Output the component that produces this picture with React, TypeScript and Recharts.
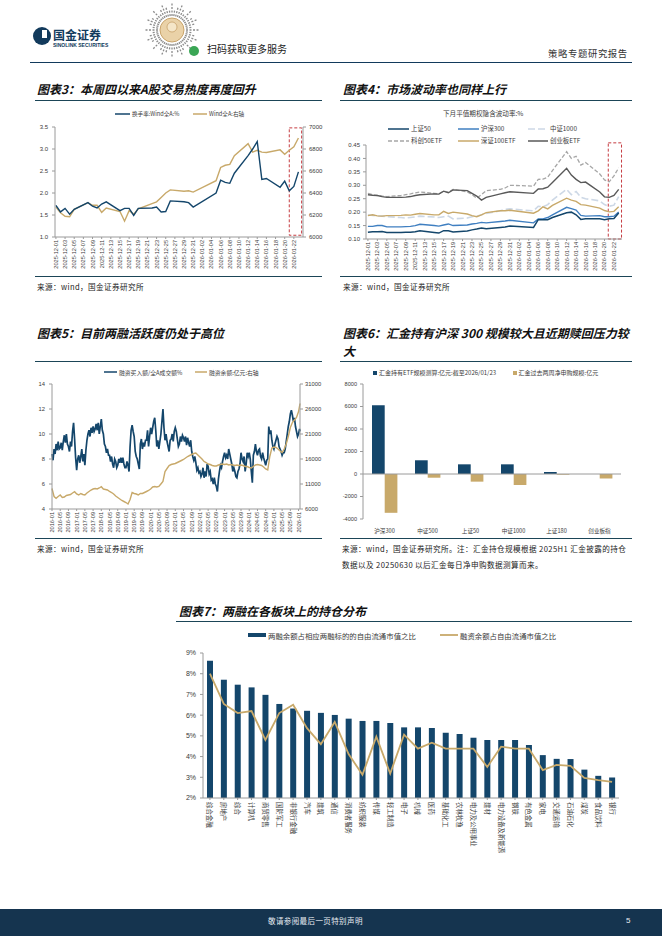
import React from 'react';
import {
  ComposedChart,
  LineChart,
  BarChart,
  Line,
  Bar,
  XAxis,
  YAxis,
  ReferenceArea,
  ReferenceLine,
} from 'recharts';

// Strategy report page 5: five panels (charts 3-7) laid out like the PDF page.

const CJK = '"Noto Sans CJK SC", "Noto Sans", sans-serif';
const NUM = '"Liberation Sans", "DejaVu Sans", sans-serif';
const NAVY = '#14466b';
const GOLD = '#c8a96a';
const RULE = '#1b4557';
const AXIS = '#9a9a9a';
const INK = '#3a3a3a';
const BOX = '#c0262b';

// ---- charts 3 & 4: daily, 2025-12-01 .. 2026-01-23 (calendar-day offsets) ----
const tradeDays = [0, 1, 2, 3, 4, 7, 8, 9, 10, 11, 14, 15, 16, 17, 18, 21, 22, 23, 24, 25, 28, 29, 30,
  35, 36, 37, 38, 39, 42, 43, 44, 45, 46, 49, 50, 51, 52, 53];
const dayTickLabels = ['2025-12-01', '2025-12-03', '2025-12-05', '2025-12-07', '2025-12-09', '2025-12-11',
  '2025-12-13', '2025-12-15', '2025-12-17', '2025-12-19', '2025-12-21', '2025-12-23', '2025-12-25',
  '2025-12-27', '2025-12-29', '2025-12-31', '2026-01-02', '2026-01-04', '2026-01-06', '2026-01-08',
  '2026-01-10', '2026-01-12', '2026-01-14', '2026-01-16', '2026-01-18', '2026-01-20', '2026-01-22'];

const turnoverRate = [1.72, 1.57, 1.65, 1.52, 1.63, 1.78, 1.70, 1.66, 1.75, 1.80, 1.60, 1.65, 1.65, 1.49, 1.65,
  1.66, 1.68, 1.57, 1.58, 1.82, 1.80, 1.78, 1.68, 2.00, 2.29, 2.24, 2.22, 2.45, 2.85, 3.00, 3.17, 2.31, 2.33,
  2.13, 2.27, 2.05, 2.15, 2.48];
const windAllA = [6272, 6220, 6188, 6184, 6252, 6312, 6288, 6288, 6224, 6264, 6232, 6144, 6240, 6208, 6256,
  6304, 6320, 6360, 6400, 6428, 6416, 6420, 6408, 6512, 6632, 6652, 6660, 6740, 6848, 6772, 6788, 6772, 6768,
  6792, 6752, 6788, 6820, 6900];

const ivSz50 = [0.125, 0.127, 0.127, 0.128, 0.124, 0.124, 0.125, 0.125, 0.127, 0.131, 0.124, 0.122, 0.131,
  0.131, 0.126, 0.130, 0.134, 0.137, 0.141, 0.138, 0.143, 0.145, 0.148, 0.143, 0.172, 0.172, 0.172, 0.180,
  0.198, 0.200, 0.190, 0.173, 0.175, 0.175, 0.172, 0.175, 0.176, 0.197];
const ivHs300 = [0.147, 0.147, 0.150, 0.150, 0.145, 0.145, 0.146, 0.147, 0.150, 0.155, 0.150, 0.148, 0.152,
  0.156, 0.150, 0.152, 0.156, 0.158, 0.162, 0.160, 0.165, 0.167, 0.170, 0.160, 0.175, 0.175, 0.180, 0.190,
  0.218, 0.213, 0.208, 0.188, 0.185, 0.187, 0.183, 0.183, 0.185, 0.200];
const ivZz1000 = [0.190, 0.188, 0.186, 0.185, 0.183, 0.180, 0.178, 0.180, 0.182, 0.185, 0.182, 0.180, 0.183,
  0.185, 0.175, 0.178, 0.183, 0.185, 0.190, 0.195, 0.205, 0.210, 0.212, 0.205, 0.222, 0.220, 0.228, 0.245,
  0.285, 0.265, 0.277, 0.255, 0.250, 0.242, 0.228, 0.222, 0.226, 0.258];
const ivKc50 = [0.270, 0.265, 0.262, 0.260, 0.258, 0.262, 0.265, 0.268, 0.272, 0.275, 0.270, 0.268, 0.278,
  0.275, 0.285, 0.275, 0.265, 0.252, 0.265, 0.280, 0.285, 0.290, 0.300, 0.297, 0.322, 0.323, 0.330, 0.355,
  0.425, 0.400, 0.408, 0.375, 0.385, 0.342, 0.320, 0.313, 0.335, 0.365];
const ivSz100 = [0.187, 0.190, 0.186, 0.185, 0.187, 0.188, 0.190, 0.189, 0.192, 0.195, 0.190, 0.190, 0.203,
  0.195, 0.200, 0.193, 0.187, 0.183, 0.190, 0.198, 0.205, 0.205, 0.207, 0.196, 0.205, 0.220, 0.212, 0.225,
  0.252, 0.245, 0.240, 0.228, 0.226, 0.215, 0.206, 0.201, 0.203, 0.220];
const ivCyb = [0.265, 0.263, 0.262, 0.258, 0.255, 0.255, 0.256, 0.258, 0.262, 0.265, 0.268, 0.267, 0.278,
  0.272, 0.283, 0.280, 0.270, 0.260, 0.245, 0.255, 0.268, 0.272, 0.276, 0.270, 0.286, 0.287, 0.293, 0.310,
  0.363, 0.338, 0.322, 0.310, 0.312, 0.275, 0.257, 0.255, 0.262, 0.285];

// ---- chart 5: 2016-01 .. 2026-01, half-month readings of the buy ratio, monthly balance ----
const monthTickLabels = ['2016-01', '2016-05', '2016-09', '2017-01', '2017-05', '2017-09', '2018-01',
  '2018-05', '2018-09', '2019-01', '2019-05', '2019-09', '2020-01', '2020-05', '2020-09', '2021-01',
  '2021-05', '2021-09', '2022-01', '2022-05', '2022-09', '2023-01', '2023-05', '2023-09', '2024-01',
  '2024-05', '2024-09', '2025-01', '2025-05', '2025-09', '2026-01'];
const marginBuyRatio = [
  8.4, 7.9, 8.8, 8.4, 9.2, 8.7, 9.4, 8.8, 8.9, 9.3, 8.7, 9.4, 9.9, 9.3, 10.0, 9.2, 9.0, 8.6, 9.4, 9.0,
  10.2, 10.9, 9.6, 8.1, 7.1, 8.0, 8.3, 7.7, 8.2, 8.8, 7.8, 8.4, 7.5, 8.7, 9.5, 10.0, 10.3, 9.8, 10.5, 10.1,
  10.6, 10.2, 10.4, 10.8, 10.3, 10.9, 10.0, 10.6, 11.2, 10.3, 10.0, 9.2, 9.0, 8.5, 8.8, 8.3, 8.3, 7.8, 8.2, 7.6,
  7.3, 8.0, 7.8, 7.3, 7.5, 8.0, 7.7, 8.1, 7.7, 8.1, 7.6, 7.3, 7.3, 7.8, 7.5, 7.0, 9.0, 10.3, 10.7, 10.2,
  9.8, 8.6, 8.2, 8.0, 7.6, 7.2, 9.2, 9.6, 8.8, 9.3, 9.0, 9.5, 9.5, 10.3, 9.0, 9.8, 10.5, 10.0, 10.5, 11.0,
  11.3, 10.3, 9.0, 9.5, 8.8, 9.4, 10.0, 11.0, 12.0, 10.5, 9.5, 10.0, 9.4, 9.0, 8.6, 9.5, 9.6, 10.0, 9.4, 10.2,
  10.5, 10.2, 9.6, 9.0, 9.2, 9.8, 9.4, 9.9, 9.7, 9.4, 9.8, 9.1, 9.7, 9.3, 9.0, 9.5, 8.6, 8.2, 7.9, 8.2,
  7.7, 7.1, 7.3, 6.9, 7.0, 6.6, 6.8, 7.3, 6.5, 7.0, 6.6, 7.6, 7.4, 6.8, 7.0, 6.3, 6.4, 6.0, 6.5, 6.0,
  5.8, 5.4, 6.4, 7.0, 7.5, 7.3, 7.8, 8.2, 8.5, 8.1, 8.3, 8.0, 8.8, 8.4, 8.0, 7.6, 7.0, 7.3, 7.0, 6.6,
  6.5, 7.0, 7.2, 7.6, 8.5, 8.0, 7.8, 8.2, 7.0, 7.6, 8.5, 8.2, 8.5, 8.0, 7.0, 6.1, 8.3, 8.6, 9.2, 8.6,
  8.3, 8.7, 8.8, 8.2, 8.0, 8.5, 8.1, 7.8, 7.5, 7.9, 8.0, 10.6, 10.0, 10.3, 9.5, 9.0, 8.8, 9.2, 9.5, 9.8,
  9.6, 9.0, 8.8, 8.6, 8.3, 8.5, 8.5, 8.8, 9.4, 10.0, 10.6, 11.0, 11.6, 11.9, 11.5, 11.0, 11.3, 10.6, 10.2, 9.8,
  10.0, 10.4];
const marginBalance = [
  10100, 8500, 8150, 8500, 8800, 8300, 8400, 8700, 8800, 8900,
  9200, 9450, 9000, 8800, 9100, 8900, 8800, 9200, 9500, 9800,
  10000, 10100, 10000, 10200, 10450, 10000, 9900, 9800, 9500, 9300,
  9000, 8600, 8300, 8000, 7700, 7500, 7300, 7000, 7900, 9300,
  9100, 9000, 8800, 9100, 9100, 9300, 9500, 9700, 10000, 10400,
  10500, 10400, 10500, 11000, 11500, 13500, 14100, 14700, 14900, 15000,
  15100, 15300, 15500, 15700, 15900, 16200, 16500, 16700, 16900, 17100,
  17200, 16800, 16400, 16000, 15500, 15300, 15000, 14900, 14700, 14600,
  14600, 14800, 14900, 15000, 14900, 15000, 14800, 14900, 14800, 14700,
  14800, 14700, 14800, 14700, 14500, 14500, 14300, 14200, 14500, 14800,
  14900, 14800, 14700, 14400, 14000, 13800, 16500, 18200, 18400, 18300,
  18000, 17600, 17300, 18000, 19000, 20500, 22300, 23300, 23800, 24300,
  25500];
const lastMarginObs = { m: 120.7, buy: 10.2, bal: 27100 };

// ---- chart 6 ----
const etfNames = ['沪深300', '中证500', '上证50', '中证1000', '上证180', '创业板指'];
const huijinHolding = [6120, 1220, 860, 860, 180, 0];
const huijinNetSub = [-3450, -330, -680, -980, -60, -400];

// ---- chart 7 ----
const sectors = ['综合金融', '房地产', '综合', '计算机', '商贸零售', '国防军工', '非银行金融', '汽车', '建筑',
  '通信', '消费者服务', '纺织服装', '传媒', '轻工制造', '电子', '机械', '医药', '基础化工', '农林牧渔',
  '电力及公用事业', '建材', '电力设备及新能源', '钢铁', '有色金属', '家电', '交通运输', '石油石化', '煤炭',
  '食品饮料', '银行'];
const marginShare = [8.63, 7.71, 7.47, 7.34, 6.98, 6.54, 6.32, 6.21, 6.11, 6.01, 5.83, 5.72, 5.72, 5.62,
  5.41, 5.41, 5.38, 5.15, 5.09, 4.91, 4.80, 4.80, 4.80, 4.56, 4.07, 3.89, 3.88, 3.37, 3.07, 2.99];
const financingShare = [8.0, 6.54, 6.1, 6.2, 4.8, 6.1, 6.5, 5.37, 4.6, 5.67, 4.12, 3.12, 4.96, 3.18, 5.06,
  4.38, 4.67, 4.38, 4.38, 4.38, 3.5, 4.48, 4.38, 4.38, 3.35, 3.6, 3.55, 2.97, 2.86, 2.78];

// ---- derived tables ----
const dayTicks = dayTickLabels.map((_, i) => i * 2);
const monthTicks = monthTickLabels.map((_, i) => i * 4);

const heatRows = tradeDays.map((d, i) => ({ d, turnover: turnoverRate[i], idx: windAllA[i] }));
const ivRows = tradeDays.map((d, i) => ({
  d, sz50: ivSz50[i], hs300: ivHs300[i], zz1000: ivZz1000[i], kc50: ivKc50[i], sz100: ivSz100[i], cyb: ivCyb[i],
}));
const marginRows = [
  ...marginBuyRatio.map((v, i) => ({
    m: i / 2,
    buy: v,
    bal: i % 2 === 0 ? marginBalance[i / 2] : undefined,
  })),
  lastMarginObs,
];
const etfRows = etfNames.map((name, i) => ({ name, hold: huijinHolding[i], sub: huijinNetSub[i] }));
const sectorRows = sectors.map((name, i) => ({ name, share: marginShare[i], fin: financingShare[i] }));

// ---- small drawing helpers ----
function DownTick(props: any) {
  const { x, y, payload, labels, step, size } = props;
  const label = labels[Math.round(payload.value / step)];
  return (
    <g transform={`translate(${x},${y})`}>
      <text transform="rotate(-90)" textAnchor="end" dominantBaseline="central"
        fontSize={size} fill={INK} fontFamily={NUM}>{label}</text>
    </g>
  );
}

function SectorTick(props: any) {
  const { x, y, payload } = props;
  return (
    <g transform={`translate(${x},${y})`}>
      <text transform="rotate(90)" textAnchor="start" dominantBaseline="central"
        fontSize={6.4} fill={INK} fontFamily={CJK}>{payload.value}</text>
    </g>
  );
}

function Txt({ x, y, size, children, color = INK, weight = 400, italic = false, font = CJK, spacing = 0 }: any) {
  return (
    <div style={{
      position: 'absolute', left: x, top: y - size * 0.65, fontSize: size, lineHeight: `${size * 1.3}px`,
      whiteSpace: 'nowrap', color, fontWeight: weight, fontStyle: italic ? 'italic' : 'normal',
      fontFamily: font, letterSpacing: spacing,
    }}>{children}</div>
  );
}

function Rule({ x, y, w, h = 1.2, color = RULE }: any) {
  return <div style={{ position: 'absolute', left: x, top: y, width: w, height: h, background: color }} />;
}

function Key({ x, y, w, color, dash, sw = 1.5, box, label, size }: any) {
  return (
    <div style={{
      position: 'absolute', left: x, top: y - 4, height: 8, display: 'flex', alignItems: 'center',
      whiteSpace: 'nowrap', fontSize: size, color: INK, fontFamily: CJK,
    }}>
      {box ? (
        <span style={{ display: 'inline-block', width: w, height: box, background: color, marginRight: 2 }} />
      ) : (
        <svg width={w} height={4} style={{ marginRight: 2 }}>
          <line x1={0} y1={2} x2={w} y2={2} stroke={color} strokeWidth={sw} strokeDasharray={dash} />
        </svg>
      )}
      <span>{label}</span>
    </div>
  );
}

function Title({ x, y, children }: any) {
  return <Txt x={x} y={y} size={12} weight={700} italic color="#111">{children}</Txt>;
}

function Source({ x, y, children }: any) {
  return <Txt x={x} y={y} size={7.6} color="#222" spacing={0.4}>{children}</Txt>;
}

function Header() {
  const spokes = Array.from({ length: 48 }, (_, i) => i * 7.5);
  return (
    <>
      <svg width={20} height={20} style={{ position: 'absolute', left: 32, top: 26 }}>
        <circle cx={10} cy={10} r={9} fill="#123a5c" />
        <rect x={10} y={4} width={5} height={8} fill="#fff" />
      </svg>
      <Txt x={53} y={35} size={12} weight={700} color="#123a5c">国金证券</Txt>
      <Txt x={53} y={45} size={5} weight={700} color="#123a5c" font={NUM}>SINOLINK SECURITIES</Txt>
      <svg width={60} height={58} style={{ position: 'absolute', left: 142, top: 2 }}>
        {spokes.map((a, i) => {
          const r = (a * Math.PI) / 180;
          const outer = 15 + (i % 3 === 0 ? 12 : i % 2 === 0 ? 9 : 6);
          return (
            <line key={a} x1={30 + 14 * Math.cos(r)} y1={28 + 14 * Math.sin(r)}
              x2={30 + outer * Math.cos(r)} y2={28 + outer * Math.sin(r)}
              stroke="#8c8c8c" strokeWidth={1.3} strokeDasharray="2 1.5" />
          );
        })}
        <circle cx={30} cy={28} r={12} fill="#ead2a8" stroke="#c9a46b" />
        <circle cx={30} cy={25} r={5} fill="#f5e6c8" stroke="#b88d50" strokeWidth={0.6} />
        <circle cx={52} cy={49} r={5} fill="#3aa655" />
      </svg>
      <Txt x={207} y={48} size={10} color="#222">扫码获取更多服务</Txt>
      <Txt x={548} y={53} size={9.4} color="#333" spacing={0.6}>策略专题研究报告</Txt>
      <Rule x={30} y={61.5} w={602} h={1.4} color="#123a5c" />
    </>
  );
}

function Footer() {
  return (
    <div style={{ position: 'absolute', left: 0, top: 909, width: 662, height: 27, background: '#15344f' }}>
      <Txt x={268} y={12} size={7.5} color="#e8edf2" spacing={0.4}>敬请参阅最后一页特别声明</Txt>
      <Txt x={626} y={12} size={8} color="#e8edf2" font={NUM}>5</Txt>
    </div>
  );
}

const yTick = (size: number) => ({ fontSize: size, fill: INK, fontFamily: NUM });

function HeatChart() {
  return (
    <div style={{ position: 'absolute', left: 0, top: 120 }}>
      <ComposedChart width={340} height={160} data={heatRows} margin={{ top: 7, right: 0, bottom: 3, left: 0 }}>
        <XAxis dataKey="d" type="number" domain={[-0.2, 54]} ticks={dayTicks} interval={0} height={40}
          stroke={AXIS} tickSize={2} tickMargin={1}
          tick={(p: any) => <DownTick {...p} labels={dayTickLabels} step={2} size={5.6} />} />
        <YAxis yAxisId="l" domain={[1, 3.5]} ticks={[1, 1.5, 2, 2.5, 3, 3.5]} width={55} stroke={AXIS}
          tickSize={3} tickMargin={4} tick={yTick(6)} tickFormatter={(v: number) => v.toFixed(1)} />
        <YAxis yAxisId="r" orientation="right" domain={[6000, 7000]} ticks={[6000, 6200, 6400, 6600, 6800, 7000]}
          width={37} stroke={AXIS} tickSize={3} tickMargin={3} tick={yTick(6)} />
        <ReferenceArea yAxisId="l" x1={51} x2={53.7} y1={1.04} y2={3.48} fill="none" stroke={BOX}
          strokeDasharray="3 2" strokeWidth={0.9} ifOverflow="visible" />
        <Line yAxisId="r" dataKey="idx" type="linear" stroke={GOLD} strokeWidth={1.4} dot={false}
          isAnimationActive={false} />
        <Line yAxisId="l" dataKey="turnover" type="linear" stroke={NAVY} strokeWidth={1.4} dot={false}
          isAnimationActive={false} />
      </ComposedChart>
    </div>
  );
}

function VolChart() {
  return (
    <div style={{ position: 'absolute', left: 335, top: 140 }}>
      <LineChart width={292} height={140} data={ivRows} margin={{ top: 5, right: 5, bottom: 3, left: 0 }}>
        <XAxis dataKey="d" type="number" domain={[-0.4, 53.7]} ticks={dayTicks} interval={0} height={38}
          stroke={AXIS} tickSize={2} tickMargin={1}
          tick={(p: any) => <DownTick {...p} labels={dayTickLabels} step={2} size={5.6} />} />
        <YAxis domain={[0.1, 0.45]} ticks={[0.1, 0.15, 0.2, 0.25, 0.3, 0.35, 0.4, 0.45]} width={31}
          stroke={AXIS} tickSize={3} tickMargin={3} tick={yTick(6)} tickFormatter={(v: number) => v.toFixed(2)} />
        <ReferenceArea x1={50.8} x2={53.6} y1={0.1} y2={0.458} fill="none" stroke={BOX}
          strokeDasharray="3 2" strokeWidth={0.9} ifOverflow="visible" />
        <Line dataKey="kc50" stroke="#a6a6a6" strokeWidth={1.3} strokeDasharray="4 2" dot={false}
          isAnimationActive={false} />
        <Line dataKey="zz1000" stroke="#cdd8e6" strokeWidth={1.6} strokeDasharray="7 3" dot={false}
          isAnimationActive={false} />
        <Line dataKey="sz100" stroke={GOLD} strokeWidth={1.4} dot={false} isAnimationActive={false} />
        <Line dataKey="cyb" stroke="#595959" strokeWidth={1.4} dot={false} isAnimationActive={false} />
        <Line dataKey="hs300" stroke="#3f7fc1" strokeWidth={1.4} dot={false} isAnimationActive={false} />
        <Line dataKey="sz50" stroke={NAVY} strokeWidth={1.5} dot={false} isAnimationActive={false} />
      </LineChart>
    </div>
  );
}

function MarginChart() {
  return (
    <div style={{ position: 'absolute', left: 0, top: 378 }}>
      <ComposedChart width={330} height={165} data={marginRows} margin={{ top: 6, right: 0, bottom: 3, left: 0 }}>
        <XAxis dataKey="m" type="number" domain={[0, 120.7]} ticks={monthTicks} interval={0} height={31}
          stroke={AXIS} tickSize={2} tickMargin={1}
          tick={(p: any) => <DownTick {...p} labels={monthTickLabels} step={4} size={5.6} />} />
        <YAxis yAxisId="l" domain={[4, 14]} ticks={[4, 6, 8, 10, 12, 14]} width={52} stroke={AXIS}
          tickSize={3} tickMargin={4} tick={yTick(5.8)} />
        <YAxis yAxisId="r" orientation="right" domain={[6000, 31000]}
          ticks={[6000, 11000, 16000, 21000, 26000, 31000]} width={30} stroke={AXIS}
          tickSize={3} tickMargin={2} tick={yTick(5.8)} />
        <Line yAxisId="l" dataKey="buy" type="linear" stroke={NAVY} strokeWidth={1.7} dot={false}
          isAnimationActive={false} />
        <Line yAxisId="r" dataKey="bal" type="linear" stroke={GOLD} strokeWidth={1.4} dot={false}
          connectNulls isAnimationActive={false} />
      </ComposedChart>
    </div>
  );
}

function EtfChart() {
  return (
    <div style={{ position: 'absolute', left: 335, top: 378 }}>
      <BarChart width={290} height={160} data={etfRows} margin={{ top: 6, right: 4, bottom: 3, left: 0 }}
        barSize={12.7} barGap={0}>
        <XAxis dataKey="name" height={16} axisLine={false} tickLine={false} tickMargin={4}
          tick={{ fontSize: 5.6, fill: INK, fontFamily: CJK }} interval={0} />
        <YAxis domain={[-4000, 8000]} ticks={[-4000, -2000, 0, 2000, 4000, 6000, 8000]} width={28}
          stroke={AXIS} tickSize={3} tickMargin={3} tick={yTick(5.6)} />
        <ReferenceLine y={0} stroke={AXIS} />
        <Bar dataKey="hold" fill={NAVY} isAnimationActive={false} />
        <Bar dataKey="sub" fill={GOLD} isAnimationActive={false} />
      </BarChart>
    </div>
  );
}

function SectorChart() {
  return (
    <div style={{ position: 'absolute', left: 160, top: 645 }}>
      <ComposedChart width={465} height={245} data={sectorRows} margin={{ top: 8, right: 6, bottom: 3, left: 0 }}
        barSize={6}>
        <XAxis dataKey="name" height={89} interval={0} stroke={AXIS} tickSize={2} tickMargin={2}
          tick={(p: any) => <SectorTick {...p} />} />
        <YAxis domain={[2, 9]} ticks={[2, 3, 4, 5, 6, 7, 8, 9]} width={43} stroke={AXIS}
          tickSize={3} tickMargin={4} tick={yTick(7)} tickFormatter={(v: number) => `${v}%`} />
        <Bar dataKey="share" fill={NAVY} isAnimationActive={false} />
        <Line dataKey="fin" type="linear" stroke={GOLD} strokeWidth={1.8} dot={false} isAnimationActive={false} />
      </ComposedChart>
    </div>
  );
}

export default function App() {
  return (
    <div style={{
      position: 'absolute', left: 0, top: 0, width: 662, height: 936, background: '#fff',
      overflow: 'hidden', fontFamily: CJK,
    }}>
      <Header />

      {/* charts 3 and 4 */}
      <Title x={37} y={89}>图表3：本周四以来A股交易热度再度回升</Title>
      <Title x={343} y={89}>图表4：市场波动率也同样上行</Title>
      <Rule x={35} y={99.5} w={287} />
      <Rule x={340} y={99.5} w={292} />
      <Key x={115} y={113.5} w={15} color={NAVY} label="换手率:Wind全A:%" size={5.6} />
      <Key x={193} y={113.5} w={14} color={GOLD} label="Wind全A:右轴" size={5.6} />
      <HeatChart />
      <Txt x={443} y={113.5} size={6.6}>下月平值期权隐含波动率:%</Txt>
      <Key x={388} y={128.5} w={21} color={NAVY} label="上证50" size={6.4} />
      <Key x={458} y={128.5} w={21} color="#3f7fc1" label="沪深300" size={6.4} />
      <Key x={528} y={128.5} w={20} color="#cdd8e6" dash="7 3" label="中证1000" size={6.4} />
      <Key x={388} y={140.5} w={21} color="#a6a6a6" dash="4 2" label="科创50ETF" size={6.4} />
      <Key x={458} y={140.5} w={21} color={GOLD} label="深证100ETF" size={6.4} />
      <Key x={528} y={140.5} w={20} color="#595959" label="创业板ETF" size={6.4} />
      <VolChart />
      <Rule x={35} y={276} w={287} />
      <Rule x={340} y={276} w={292} />
      <Source x={37} y={287}>来源：wind，国金证券研究所</Source>
      <Source x={343} y={287}>来源：wind，国金证券研究所</Source>

      {/* charts 5 and 6 */}
      <Title x={37} y={333}>图表5：目前两融活跃度仍处于高位</Title>
      <Title x={343} y={333}>图表6：汇金持有沪深 300 规模较大且近期赎回压力较</Title>
      <Title x={343} y={351}>大</Title>
      <Rule x={35} y={361} w={287} />
      <Rule x={340} y={361} w={292} />
      <Key x={104} y={372} w={13} color={NAVY} label="融资买入额/全A成交额%" size={5.8} />
      <Key x={195} y={372} w={12} color={GOLD} label="融资余额:亿元:右轴" size={5.8} />
      <MarginChart />
      <Key x={373} y={372.5} w={4} box={4} color={NAVY} label="汇金持有ETF规模测算:亿元:截至2026/01/23" size={6} />
      <Key x={512.5} y={372.5} w={4} box={4} color={GOLD} label="汇金过去两周净申购规模:亿元" size={6} />
      <EtfChart />
      <Rule x={35} y={538} w={287} />
      <Rule x={340} y={538} w={292} />
      <Source x={37} y={548.5}>来源：wind，国金证券研究所</Source>
      <Source x={342} y={548.5}>来源：wind，国金证券研究所。注：汇金持仓规模根据 2025H1 汇金披露的持仓</Source>
      <Source x={342} y={565}>数据以及 20250630 以后汇金每日净申购数据测算而来。</Source>

      {/* chart 7 */}
      <Title x={179} y={611}>图表7：两融在各板块上的持仓分布</Title>
      <Rule x={176} y={621} w={456} />
      <Key x={248} y={635} w={18} box={4.5} color={NAVY} label="两融余额占相应两融标的的自由流通市值之比" size={7.4} />
      <Key x={440} y={635} w={18} sw={1.8} color={GOLD} label="融资余额占自由流通市值之比" size={7.4} />
      <SectorChart />

      <Footer />
    </div>
  );
}
